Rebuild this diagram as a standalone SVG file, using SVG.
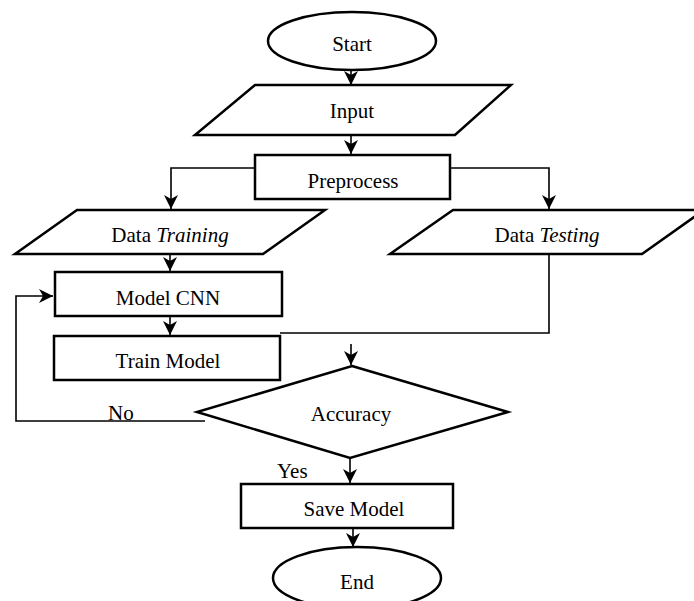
<svg xmlns="http://www.w3.org/2000/svg" width="694" height="601" viewBox="0 0 694 601">
<style>
.s{fill:#fff;stroke:#000;stroke-width:2.5}
.c{fill:none;stroke:#000;stroke-width:1.6}
text{font-family:"Liberation Serif","Times New Roman",serif;font-size:21px;fill:#000;text-anchor:middle}
.l{text-anchor:start}
</style>
<defs>
<marker id="a" markerUnits="userSpaceOnUse" markerWidth="16" markerHeight="16" refX="14" refY="7" orient="auto">
<path d="M0,0 L14,7 L0,14 L4,7 z" fill="#000"/>
</marker>
</defs>
<rect width="694" height="601" fill="#fff"/>
<g id="connectors">
<line class="c" x1="351" y1="70" x2="351" y2="85" marker-end="url(#a)"/>
<line class="c" x1="351" y1="135" x2="351" y2="154" marker-end="url(#a)"/>
<polyline class="c" points="255,168 171,168 171,209" marker-end="url(#a)"/>
<polyline class="c" points="450,168 549,168 549,209" marker-end="url(#a)"/>
<line class="c" x1="170" y1="254" x2="170" y2="271" marker-end="url(#a)"/>
<line class="c" x1="170" y1="316" x2="170" y2="335" marker-end="url(#a)"/>
<polyline class="c" points="549,247 549,333 280,333"/>
<line class="c" x1="351" y1="344" x2="351" y2="365" marker-end="url(#a)"/>
<polyline class="c" points="205,421 16,421 16,296 53,296" marker-end="url(#a)"/>
<line class="c" x1="350" y1="458" x2="350" y2="483" marker-end="url(#a)"/>
<line class="c" x1="353" y1="528" x2="353" y2="547" marker-end="url(#a)"/>
</g>
<g id="start">
<ellipse class="s" cx="352" cy="41" rx="84" ry="29"/>
<text x="352" y="51">Start</text>
</g>
<g id="input">
<polygon class="s" points="255,85 511,85 455,135 195,135"/>
<text x="352" y="118">Input</text>
</g>
<g id="preprocess">
<rect class="s" x="255" y="155" width="195" height="44"/>
<text x="353" y="188">Preprocess</text>
</g>
<g id="data-training">
<polygon class="s" points="77,210 325,210 263,254 15,254"/>
<text x="170" y="242">Data <tspan font-style="italic">Training</tspan></text>
</g>
<g id="data-testing">
<polygon class="s" points="453,210 704,210 642,254 390,254"/>
<text x="547" y="242">Data <tspan font-style="italic">Testing</tspan></text>
</g>
<g id="model-cnn">
<rect class="s" x="55" y="272" width="227" height="44"/>
<text x="168" y="305">Model CNN</text>
</g>
<g id="train-model">
<rect class="s" x="54" y="336" width="226" height="44"/>
<text x="168" y="368">Train Model</text>
</g>
<g id="accuracy">
<polygon class="s" points="352,366 508,412 350,458 197,412"/>
<text x="351" y="421">Accuracy</text>
<text class="l" x="108" y="420">No</text>
<text class="l" x="277" y="478">Yes</text>
</g>
<g id="save-model">
<rect class="s" x="241" y="484" width="212" height="44"/>
<text x="354" y="516">Save Model</text>
</g>
<g id="end">
<ellipse class="s" cx="357" cy="578" rx="84" ry="31"/>
<text x="357" y="589">End</text>
</g>
</svg>
